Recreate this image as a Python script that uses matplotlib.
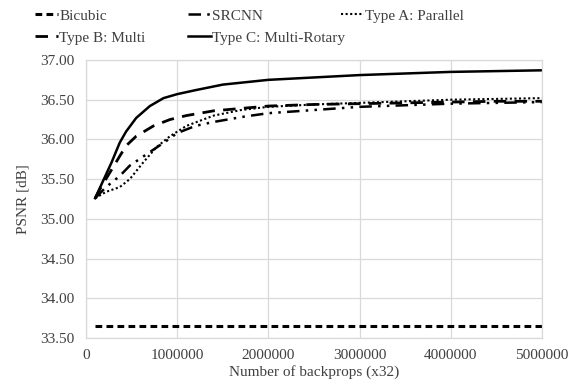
import matplotlib
matplotlib.use("Agg")
import matplotlib.pyplot as plt
from matplotlib.ticker import MultipleLocator, FormatStrFormatter

plt.rcParams['font.family'] = ['Liberation Serif', 'DejaVu Serif']
plt.rcParams['font.size'] = 11

# backprops (x32), PSNR [dB]
x_bicubic = [100000, 5000000]
y_bicubic = [33.65, 33.65]

x_srcnn = [100000, 220000, 370000, 480000, 660000, 880000, 1000000, 1200000,
           1400000, 1750000, 2000000, 2500000, 3000000, 3500000, 4000000,
           4500000, 5000000]
y_srcnn = [35.26, 35.40, 35.54, 35.67, 35.81, 35.98, 36.08, 36.17,
           36.22, 36.29, 36.33, 36.37, 36.41, 36.43, 36.45, 36.46, 36.47]

x_type_a = [100000, 220000, 370000, 480000, 620000, 770000, 920000, 1100000,
            1400000, 1700000, 2000000, 2500000, 3000000, 3500000, 4000000,
            4500000, 5000000]
y_type_a = [35.26, 35.34, 35.40, 35.50, 35.70, 35.90, 36.04, 36.17,
            36.30, 36.37, 36.41, 36.44, 36.46, 36.48, 36.50, 36.51, 36.52]

x_type_b = [100000, 165000, 260000, 370000, 440000, 550000, 740000, 920000,
            1100000, 1400000, 2000000, 2500000, 3000000, 3500000, 4000000,
            4500000, 5000000]
y_type_b = [35.26, 35.40, 35.58, 35.79, 35.92, 36.04, 36.17, 36.25,
            36.30, 36.36, 36.42, 36.44, 36.45, 36.46, 36.47, 36.48, 36.48]

x_type_c = [100000, 180000, 280000, 370000, 440000, 550000, 700000, 850000,
            1000000, 1200000, 1500000, 2000000, 2500000, 3000000, 3500000,
            4000000, 4500000, 5000000]
y_type_c = [35.26, 35.46, 35.71, 35.96, 36.10, 36.27, 36.42, 36.52,
            36.57, 36.62, 36.69, 36.75, 36.78, 36.81, 36.83, 36.85, 36.86, 36.87]

text_col = '#404040'
grid_col = '#d9d9d9'

fig = plt.figure(figsize=(5.75, 3.86), dpi=100)
ax = fig.add_axes([0.1496, 0.1244, 0.7930, 0.7202])

h_bic, = ax.plot(x_bicubic, y_bicubic, color='black', lw=2.2,
                 linestyle=(0, (2.2, 1.4)), label='Bicubic')
h_src, = ax.plot(x_srcnn, y_srcnn, color='black', lw=1.8,
                 linestyle=(0, (5, 2.5, 1, 2.5, 1, 2.5)), label='SRCNN')
h_a, = ax.plot(x_type_a, y_type_a, color='black', lw=1.5,
               linestyle=(0, (1, 1.2)), label='Type A: Parallel')
h_b, = ax.plot(x_type_b, y_type_b, color='black', lw=2.0,
               linestyle=(0, (4.5, 3)), label='Type B: Multi')
h_c, = ax.plot(x_type_c, y_type_c, color='black', lw=1.8,
               label='Type C: Multi-Rotary')

ax.set_xlim(0, 5000000)
ax.set_ylim(33.5, 37.0)
ax.xaxis.set_major_locator(MultipleLocator(1000000))
ax.yaxis.set_major_locator(MultipleLocator(0.5))
ax.yaxis.set_major_formatter(FormatStrFormatter('%.2f'))
ax.xaxis.set_major_formatter(FormatStrFormatter('%d'))
ax.grid(True, color=grid_col, lw=0.9)
ax.set_axisbelow(True)
for s in ax.spines.values():
    s.set_color(grid_col)
    s.set_linewidth(0.9)
ax.tick_params(length=0, colors=text_col, labelsize=11, pad=8)

ax.set_xlabel('Number of backprops (x32)', color=text_col, fontsize=11, labelpad=2)
ax.set_ylabel('PSNR [dB]', color=text_col, fontsize=11, labelpad=8)

# legend: three equal-width columns, like the spreadsheet legend
columns = [[h_bic, h_b], [h_src, h_c], [h_a]]
col_x = [35 / 575, 188 / 575, 341 / 575]
for handles, x0 in zip(columns, col_x):
    leg = fig.legend(handles=handles, loc='upper left',
                     bbox_to_anchor=(x0, 1 - 9 / 386), borderpad=0,
                     borderaxespad=0, frameon=False, fontsize=11,
                     handlelength=1.5, handletextpad=0.1, labelspacing=0.55)
    for t in leg.get_texts():
        t.set_color(text_col)

fig.savefig('out.png', dpi=100)
